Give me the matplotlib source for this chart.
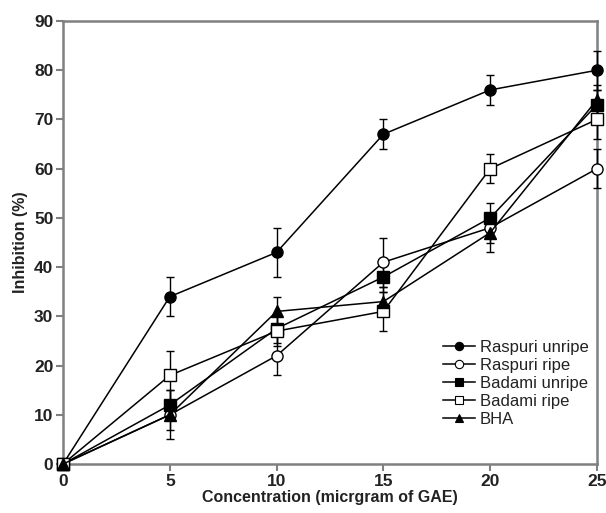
import numpy as np
import matplotlib
matplotlib.use('Agg')
import matplotlib.pyplot as plt
from matplotlib.lines import Line2D

plt.rcParams['font.family'] = ['Liberation Sans', 'DejaVu Sans']

conc = [0, 5, 10, 15, 20, 25]

raspuri_unripe = [0, 34, 43, 67, 76, 80]
raspuri_unripe_err = [0, 4, 5, 3, 3, 4]
raspuri_ripe = [0, 10, 22, 41, 48, 60]
raspuri_ripe_err = [0, 3, 4, 5, 3, 4]
badami_unripe = [0, 12, 27.5, 38, 50, 73]
badami_unripe_err = [0, 3, 3, 3, 3, 3]
badami_ripe = [0, 18, 27, 31, 60, 70]
badami_ripe_err = [0, 5, 3, 4, 3, 4]
bha = [0, 10, 31, 33, 47, 74]
bha_err = [0, 5, 3, 3, 4, 3]

series = [
    ('Raspuri unripe', raspuri_unripe, raspuri_unripe_err, 'o', 'black'),
    ('Raspuri ripe', raspuri_ripe, raspuri_ripe_err, 'o', 'white'),
    ('Badami unripe', badami_unripe, badami_unripe_err, 's', 'black'),
    ('Badami ripe', badami_ripe, badami_ripe_err, 's', 'white'),
    ('BHA', bha, bha_err, '^', 'black'),
]

fig = plt.figure(figsize=(6.06, 5.13), dpi=100)
ax = fig.add_axes([0.104, 0.0955, 0.881, 0.8635])

handles = []
for name, y, e, m, fc in series:
    ax.errorbar(conc, y, yerr=e, color='black', lw=1.1, elinewidth=1.0,
                capsize=3, capthick=1.0, marker=m, markersize=8 if m != '^' else 8.5,
                markerfacecolor=fc, markeredgecolor='black', markeredgewidth=1.0,
                clip_on=False, zorder=3)
    # legend uses small markers, no error bars
    handles.append(Line2D([], [], color='black', lw=1.1, marker=m, markersize=6,
                          markerfacecolor=fc, markeredgecolor='black',
                          markeredgewidth=0.8, label=name))

ax.set_xlim(0, 25)
ax.set_ylim(0, 90)
ax.set_xticks(range(0, 26, 5))
ax.set_yticks(range(0, 91, 10))
for s in ax.spines.values():
    s.set_color('#808080')
    s.set_linewidth(1.8)
ax.tick_params(axis='both', direction='out', length=5, width=1.5, color='#808080',
               labelsize=12.5, pad=2)
for lab in ax.get_xticklabels() + ax.get_yticklabels():
    lab.set_fontweight('bold')
    lab.set_color('#222222')

ax.set_xlabel('Concentration (micrgram of GAE)', fontsize=11.5, fontweight='bold',
              color='#222222', labelpad=1)
ax.set_ylabel('Inhibition (%)', fontsize=11.5, fontweight='bold', color='#222222',
              labelpad=4)

leg = ax.legend(handles=handles, loc='upper left', bbox_to_anchor=(0.7, 0.295),
                frameon=False, fontsize=12, handlelength=1.9, handletextpad=0.3,
                labelspacing=0.18, borderaxespad=0)
for t in leg.get_texts():
    t.set_color('#222222')

fig.savefig('out.png', dpi=100)
